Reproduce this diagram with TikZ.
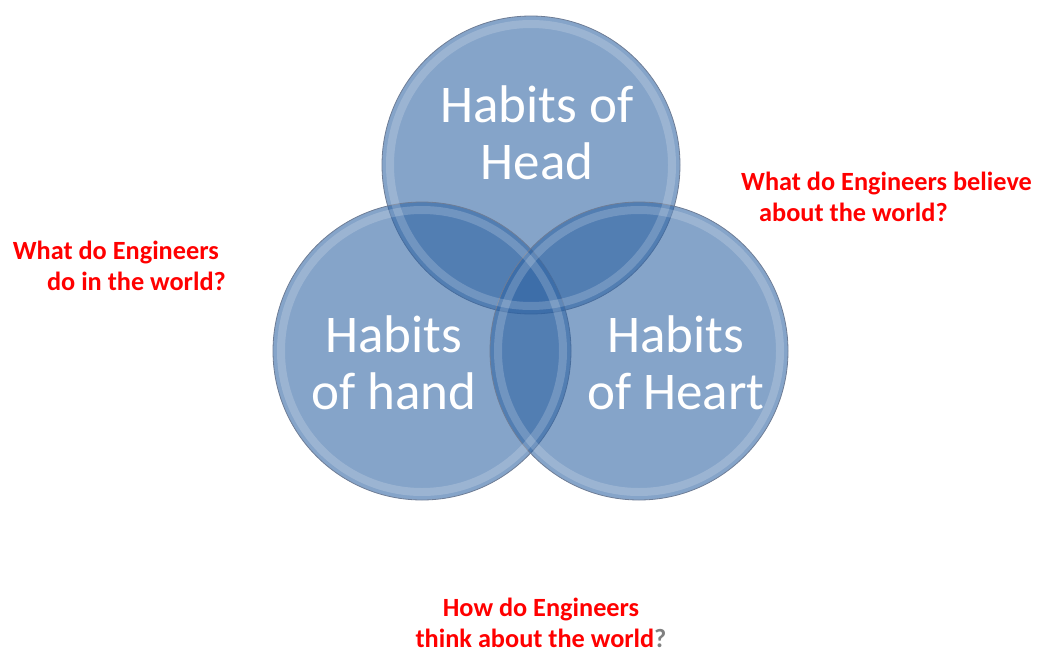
\documentclass[tikz,border=0pt]{standalone}
\usepackage{fontspec}
\setmainfont{Carlito}
\usepackage{xcolor}
\definecolor{habitblue}{RGB}{45,98,162}
\definecolor{habitrim}{RGB}{110,125,150}
\definecolor{askred}{HTML}{FF0000}

\begin{document}
\begin{tikzpicture}[x=1pt, y=-1pt,
  habit/.style={circle, minimum size=298pt, inner sep=0pt, fill=habitblue, fill opacity=0.58, draw=habitrim, line width=0.8pt},
  habittext/.style={text=white, align=center, inner sep=0pt, font=\fontsize{53}{57}\selectfont},
  question/.style={text=askred, inner sep=0pt, font=\bfseries\fontsize{26.3}{31.5}\selectfont}]
  \useasboundingbox (0,0) rectangle (1039,653);
  % the three habits
  \node[habit] (head) at (531,165) {};
  \node[habit] (hand) at (422,351) {};
  \node[habit] (heart) at (639,351) {};
  \foreach \n in {head,hand,heart}
    \draw[white, opacity=0.18, line width=8pt] (\n.center) circle (141);
  \node[habittext] (headtxt) at (537,133) {Habits of\\Head};
  \node[habittext] (handtxt) at (394,363) {Habits\\of hand};
  \node[habittext] (hearttxt) at (676,363) {Habits\\of Heart};
  % questions round them
  \node[question, align=right, anchor=east] (doq) at (226,266) {What do Engineers\hspace*{7pt}\\do in the world?};
  \node[question, align=left, anchor=west] (believeq) at (741,197) {What do Engineers believe\\\hspace*{18pt}about the world?};
  \node[question, align=center] (thinkq) at (541,623) {How do Engineers\\think about the world{\color{gray}?}};
\end{tikzpicture}
\end{document}
